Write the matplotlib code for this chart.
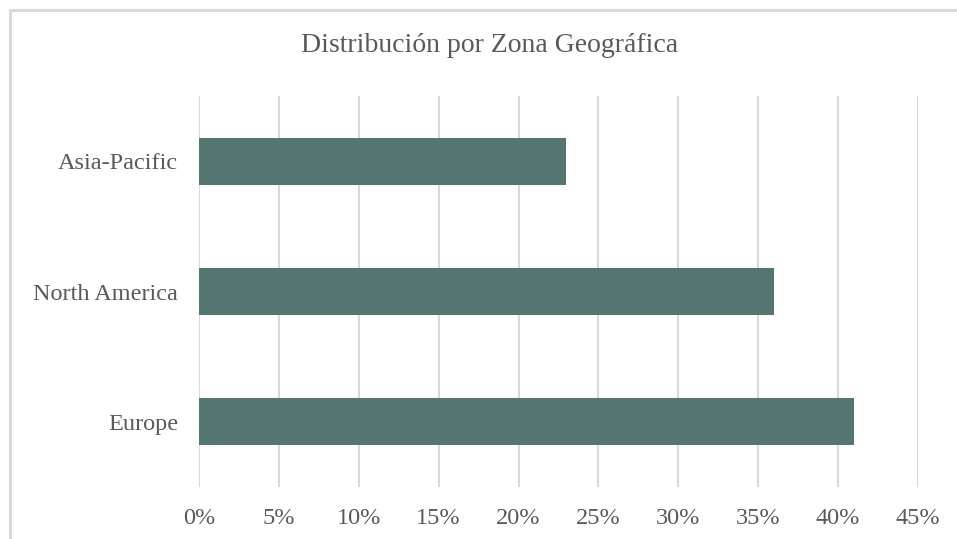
import matplotlib.pyplot as plt
from matplotlib.patches import Rectangle

# data
regions = ["Europe", "North America", "Asia-Pacific"]
shares = [41, 36, 23]
ticks = [0, 5, 10, 15, 20, 25, 30, 35, 40, 45]

bar_color = "#537672"
text_color = "#595959"
grid_color = "#d9d9d9"

plt.rcParams["font.family"] = ["Liberation Serif", "DejaVu Serif"]

fig = plt.figure(figsize=(9.57, 5.39), dpi=100)
ax = fig.add_axes([199 / 957, 52 / 539, 719 / 957, 391 / 539])

# outer chart frame (cropped at right and bottom like the original)
fig.patches.append(Rectangle((10 / 957, -0.1), 1.2, 1 - 10 / 539 + 0.1,
                             transform=fig.transFigure, fill=False,
                             edgecolor="#d9d9d9", linewidth=2.2, zorder=0))

ax.barh(range(len(regions)), shares, height=0.36, color=bar_color, zorder=3)

ax.set_xlim(0, 45)
ax.set_ylim(-0.5, len(regions) - 0.5)
ax.set_xticks(ticks)
ax.set_xticklabels([f"{t}%" for t in ticks])
ax.set_yticks(range(len(regions)))
ax.set_yticklabels(regions)

ax.xaxis.grid(True, color=grid_color, linewidth=1.5, zorder=0)
ax.set_axisbelow(True)
for s in ax.spines.values():
    s.set_visible(False)
ax.tick_params(axis="both", length=0, labelsize=17.5, colors=text_color)
ax.tick_params(axis="x", pad=15)
ax.tick_params(axis="y", pad=15)

fig.text(490 / 957, 1 - 45 / 539, "Distribución por Zona Geográfica",
         ha="center", va="center", fontsize=20, color=text_color)

fig.savefig("out.png", dpi=100)
